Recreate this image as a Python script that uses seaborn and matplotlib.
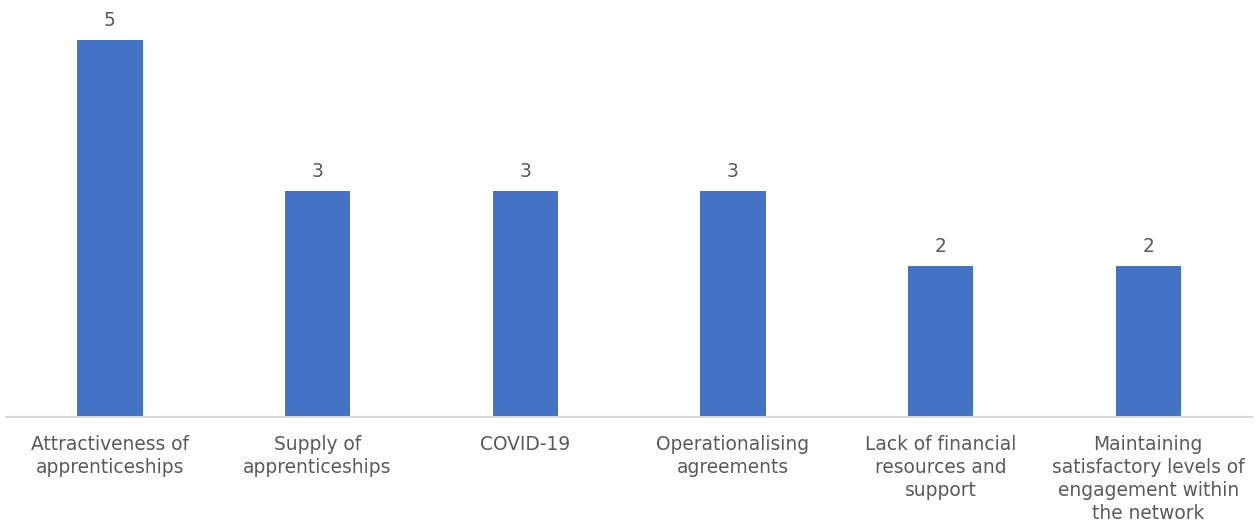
import matplotlib
matplotlib.use("Agg")
import matplotlib.pyplot as plt
import seaborn as sns
import pandas as pd

categories = [
    "Attractiveness of\napprenticeships",
    "Supply of\napprenticeships",
    "COVID-19",
    "Operationalising\nagreements",
    "Lack of financial\nresources and\nsupport",
    "Maintaining\nsatisfactory levels of\nengagement within\nthe network",
]
counts = [5, 3, 3, 3, 2, 2]

sns.set_theme(style="white")
plt.rcParams["font.family"] = "sans-serif"
plt.rcParams["font.sans-serif"] = ["DejaVu Sans"]

text_color = "#595959"
bar_color = "#4472C4"
font_size = 13.4

df = pd.DataFrame({"category": categories, "count": counts})

fig = plt.figure(figsize=(12.57, 5.22), dpi=100)
ax = fig.add_axes([0.0048, 0.2011, 0.9913, 0.7951])

sns.barplot(data=df, x="category", y="count", color=bar_color,
            width=0.315, saturation=1, linewidth=0, ax=ax)

for container in ax.containers:
    ax.bar_label(container, labels=[str(v) for v in counts], padding=7,
                 fontsize=font_size, color=text_color, family="DejaVu Sans")

ax.set_ylim(0, 5.5)
ax.set_xlim(-0.5, len(categories) - 0.5)
ax.set_xlabel("")
ax.set_ylabel("")
ax.set_yticks([])
ax.tick_params(axis="x", length=0, pad=13, labelsize=font_size, labelcolor=text_color)
for lbl in ax.get_xticklabels():
    lbl.set_family("DejaVu Sans")
    lbl.set_linespacing(1.26)

for side in ["top", "right", "left"]:
    ax.spines[side].set_visible(False)
ax.spines["bottom"].set_color("#D9D9D9")
ax.spines["bottom"].set_linewidth(1.5)

fig.savefig("out.png", dpi=100, facecolor="white")
